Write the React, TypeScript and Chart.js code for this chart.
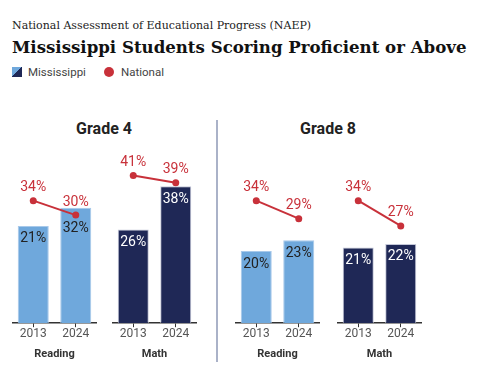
import React, { useEffect, useRef } from "react";
import { Chart, registerables } from "chart.js";

Chart.register(...registerables);

// ---- data ----
const years = ["2013", "2024"];
const subjects = ["Reading", "Math"];
const grades = ["Grade 4", "Grade 8"];

// Mississippi bar heights as drawn in the picture (% proficient or above)
const g4ReadingMS = [27, 32];
const g4MathMS = [26, 38];
const g8ReadingMS = [20, 23];
const g8MathMS = [21, 22];

// Mississippi printed labels
const g4ReadingMSLabels = ["21%", "32%"];
const g4MathMSLabels = ["26%", "38%"];
const g8ReadingMSLabels = ["20%", "23%"];
const g8MathMSLabels = ["21%", "22%"];

// National average
const g4ReadingNat = [34, 30];
const g4MathNat = [41, 39];
const g8ReadingNat = [34, 29];
const g8MathNat = [34, 27];

const LIGHT = "#6fa8dc";
const NAVY = "#1f2856";
const RED = "#c8313a";
const FONT = "Roboto, 'Noto Sans', sans-serif";

Chart.defaults.font.family = FONT;

const labelPlugin = {
  id: "valueLabels",
  afterDatasetsDraw(chart: any, _args: any, opts: any) {
    const ctx = chart.ctx;
    ctx.save();
    ctx.font = `14px ${FONT}`;
    ctx.textAlign = "center";
    ctx.textBaseline = "middle";
    const barMeta = chart.getDatasetMeta(0);
    const lineMeta = chart.getDatasetMeta(1);
    barMeta.data.forEach((el: any, i: number) => {
      const pt = lineMeta.data[i];
      let y = el.y + 13;
      if (pt && pt.y > el.y - 6) y = Math.max(y, pt.y + 13);
      ctx.fillStyle = opts.barTextColor;
      ctx.fillText(opts.barLabels[i], el.x, y);
    });
    const lineData = chart.data.datasets[1].data;
    lineMeta.data.forEach((el: any, i: number) => {
      ctx.fillStyle = RED;
      ctx.fillText(`${lineData[i]}%`, el.x, el.y - 13);
    });
    ctx.restore();
  },
};

type PanelProps = {
  left: number;
  top: number;
  width: number;
  height: number;
  subject: string;
  ms: number[];
  msLabels: string[];
  nat: number[];
  barColor: string;
  borderColor: string;
  barTextColor: string;
};

function Panel(p: PanelProps) {
  const ref = useRef<HTMLCanvasElement>(null);
  useEffect(() => {
    if (!ref.current) return;
    const chart = new Chart(ref.current, {
      type: "bar",
      data: {
        labels: years,
        datasets: [
          {
            type: "bar",
            label: "Mississippi",
            data: p.ms,
            backgroundColor: p.barColor,
            borderColor: p.borderColor,
            borderWidth: 1,
            categoryPercentage: 1,
            barPercentage: 0.73,
            order: 1,
          } as any,
          {
            type: "line",
            label: "National",
            data: p.nat,
            borderColor: RED,
            backgroundColor: RED,
            borderWidth: 2,
            pointRadius: 3.5,
            pointHoverRadius: 3.5,
            pointBackgroundColor: RED,
            pointBorderWidth: 0,
            order: 0,
          } as any,
        ],
      },
      options: {
        responsive: false,
        animation: false,
        layout: { autoPadding: false, padding: { top: 10, left: 0, right: 0, bottom: 0 } },
        plugins: {
          legend: { display: false },
          tooltip: { enabled: false },
          valueLabels: { barLabels: p.msLabels, barTextColor: p.barTextColor },
        } as any,
        scales: {
          x: {
            offset: true,
            grid: {
              display: true,
              offset: false,
              drawOnChartArea: false,
              drawTicks: true,
              tickLength: 4,
              color: "#333",
            },
            border: { display: true, color: "#333", width: 1.5 },
            ticks: { color: "#555", font: { size: 12 }, padding: 0 },
            title: {
              display: true,
              text: p.subject,
              color: "#333",
              font: { size: 11, weight: "bold" },
              padding: { top: 6.5, bottom: 6.7 },
            },
          },
          y: { display: false, min: 0, max: 50 },
        },
      },
      plugins: [labelPlugin],
    });
    return () => chart.destroy();
  }, []);
  return (
    <canvas
      ref={ref}
      width={p.width}
      height={p.height}
      style={{ position: "absolute", left: p.left, top: p.top, width: p.width, height: p.height }}
    />
  );
}

export default function App() {
  const panelTop = 133;
  const panelH = 235;
  const panelW = 85;
  return (
    <div
      style={{
        position: "absolute",
        left: 0,
        top: 0,
        width: 485,
        height: 368,
        background: "#fff",
        overflow: "hidden",
        fontFamily: FONT,
      }}
    >
      <div
        style={{
          position: "absolute",
          left: 12,
          top: 19,
          fontFamily: "'DejaVu Serif', serif",
          fontSize: 11,
          lineHeight: "14px",
          color: "#222",
          whiteSpace: "nowrap",
        }}
      >
        National Assessment of Educational Progress (NAEP)
      </div>
      <div
        style={{
          position: "absolute",
          left: 12,
          top: 37,
          fontFamily: "'DejaVu Serif', serif",
          fontWeight: "bold",
          fontSize: 16.6,
          lineHeight: "20px",
          color: "#111",
          whiteSpace: "nowrap",
        }}
      >
        Mississippi Students Scoring Proficient or Above
      </div>
      {/* legend */}
      <div
        style={{
          position: "absolute",
          left: 12,
          top: 67,
          width: 10,
          height: 10,
          background: `linear-gradient(to bottom right, ${LIGHT} 50%, ${NAVY} 50%)`,
        }}
      />
      <div
        style={{
          position: "absolute",
          left: 28,
          top: 64,
          fontSize: 11.5,
          lineHeight: "16px",
          color: "#444",
        }}
      >
        Mississippi
      </div>
      <div
        style={{
          position: "absolute",
          left: 104,
          top: 67,
          width: 10,
          height: 10,
          borderRadius: "50%",
          background: RED,
        }}
      />
      <div
        style={{
          position: "absolute",
          left: 121,
          top: 64,
          fontSize: 11.5,
          lineHeight: "16px",
          color: "#444",
        }}
      >
        National
      </div>

      {/* grade titles */}
      <div
        style={{
          position: "absolute",
          left: 54,
          width: 100,
          top: 119,
          textAlign: "center",
          fontSize: 16,
          fontWeight: "bold",
          lineHeight: "20px",
          color: "#222",
        }}
      >
        {grades[0]}
      </div>
      <div
        style={{
          position: "absolute",
          left: 278,
          width: 100,
          top: 119,
          textAlign: "center",
          fontSize: 16,
          fontWeight: "bold",
          lineHeight: "20px",
          color: "#222",
        }}
      >
        {grades[1]}
      </div>

      {/* divider */}
      <div
        style={{
          position: "absolute",
          left: 216,
          top: 120,
          width: 1.5,
          height: 242,
          background: "#aab2c8",
        }}
      />

      <Panel left={12} top={panelTop} width={panelW} height={panelH} subject={subjects[0]}
        ms={g4ReadingMS} msLabels={g4ReadingMSLabels} nat={g4ReadingNat}
        barColor={LIGHT} borderColor="#a8c9ea" barTextColor="#222" />
      <Panel left={112} top={panelTop} width={panelW} height={panelH} subject={subjects[1]}
        ms={g4MathMS} msLabels={g4MathMSLabels} nat={g4MathNat}
        barColor={NAVY} borderColor="#c3c7d8" barTextColor="#fff" />
      <Panel left={234.5} top={panelTop} width={panelW} height={panelH} subject={subjects[0]}
        ms={g8ReadingMS} msLabels={g8ReadingMSLabels} nat={g8ReadingNat}
        barColor={LIGHT} borderColor="#a8c9ea" barTextColor="#222" />
      <Panel left={337} top={panelTop} width={panelW} height={panelH} subject={subjects[1]}
        ms={g8MathMS} msLabels={g8MathMSLabels} nat={g8MathNat}
        barColor={NAVY} borderColor="#c3c7d8" barTextColor="#fff" />
    </div>
  );
}
